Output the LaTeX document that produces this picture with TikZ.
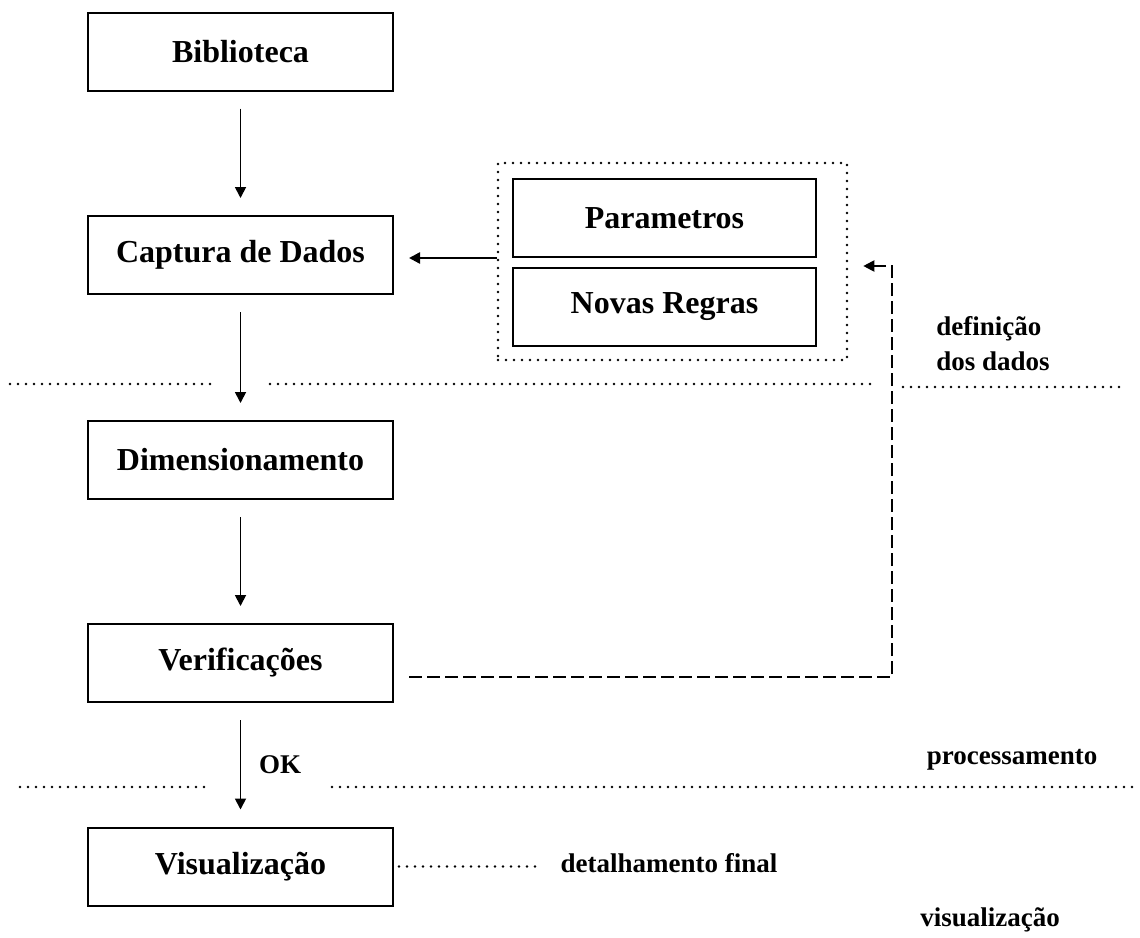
\documentclass[tikz,border=0pt]{standalone}
\usepackage{fontspec}
\setmainfont{Liberation Serif}
\usetikzlibrary{arrows.meta,positioning,calc}

\begin{document}
\begin{tikzpicture}[x=0.5pt, y=-0.5pt,
    stage/.style={draw, line width=1pt, minimum width=152.5pt, minimum height=39pt,
        font=\bfseries\fontsize{16}{19}\selectfont},
    tag/.style={font=\bfseries\fontsize{13.5}{17.5}\selectfont},
    rule/.style={line width=1.3pt, line cap=round, dash pattern=on 0pt off 4pt},
    flow/.style={-{Triangle[width=5.5pt,length=5.5pt]}, line width=0.9pt,
        shorten <=8.5pt, shorten >=8.5pt},
    feed/.style={-{Triangle[width=5.5pt,length=5.5pt]}, line width=1pt,
        dash pattern=on 6.5pt off 2.5pt, shorten >=7.5pt}]
    \useasboundingbox (0,0) rectangle (1140,937);

    % Main column
    \node [stage] (bib) at (240.5, 51.5) {Biblioteca};
    \node [stage] (cap) at (240.5, 255) {Captura de Dados};
    \node [stage] (dim) at (240.5, 460) {Dimensionamento};
    \node [stage] (ver) at (240.5, 663) {Verificações};
    \node [stage] (vis) at (240.5, 866.5) {Visualização};

    % Data definition group
    \node [stage, minimum width=151.5pt] (par) at (664.5, 218) {Parametros};
    \node [stage, minimum width=151.5pt, below=4.5pt of par] (nov) {Novas Regras};
    \node [draw, rule, minimum width=174.5pt, minimum height=98.5pt] (grp) at (672.5, 261.5) {};

    % Flow
    \draw [flow] (bib) -- (cap);
    \draw [flow] (cap) -- (dim);
    \draw [flow] (dim) -- (ver);
    \draw [flow] (ver) -- (vis) node [tag, midway, right, xshift=5.5pt] (ok) {OK};
    \draw [flow, line width=1.2pt, shorten <=0pt, shorten >=7.5pt]
        ([yshift=1.75pt]grp.west) -- ([yshift=1.75pt]grp.west -| cap.east);

    % Feedback
    \coordinate (back) at (892, 266);
    \draw [feed] ([xshift=7.5pt, yshift=-7pt]ver.east) -| (back) -- (back -| grp.east);

    % Separators
    \draw [rule] (10,384) -- (210,384);
    \draw [rule] (270,384) -- (870,384);
    \draw [rule] (903,387) -- (1120,387);
    \draw [rule] (20,787) -- (210,787);
    \draw [rule] (332,787) -- (1133,787);

    % Phase labels
    \node [tag, align=left] (defn) at (993, 344) {definição\\dos dados};
    \node [tag] (proc) at (1012, 760) {processamento};
    \node [tag] (visl) at (990, 920) {visualização};
    \node [tag] (det) at (669, 863) {detalhamento final};
    \draw [rule, shorten <=2.5pt, shorten >=7pt] (vis.east) -- (vis.east -| det.west);
\end{tikzpicture}
\end{document}
